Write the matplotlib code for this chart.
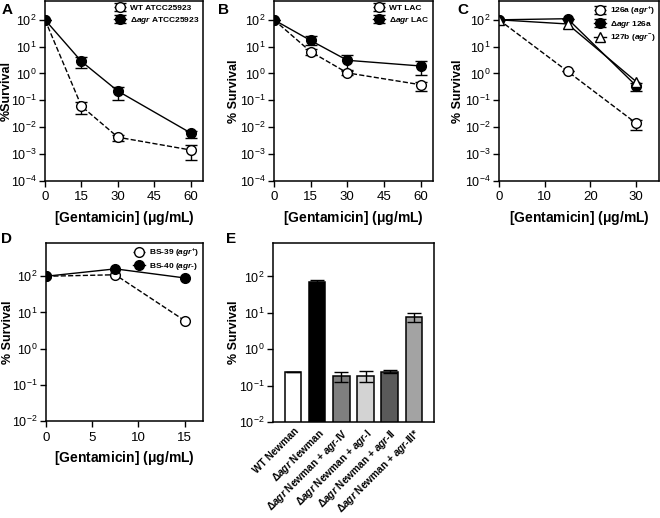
import matplotlib.pyplot as plt
import numpy as np

plt.rcParams['font.family'] = ['Liberation Sans', 'DejaVu Sans']
plt.rcParams['mathtext.fontset'] = 'custom'
plt.rcParams['mathtext.rm'] = 'Liberation Sans'
plt.rcParams['mathtext.it'] = 'Liberation Sans:italic:bold'
plt.rcParams['mathtext.bf'] = 'Liberation Sans:bold'
plt.rcParams['mathtext.default'] = 'regular'

# panel A
a_x = [0, 15, 30, 60]
a_wt = [100, 0.06, 0.0042, 0.0014]
a_wt_lo = [0, 0.03, 0.0012, 0.0008]
a_wt_hi = [0, 0.03, 0.0008, 0.0008]
a_ko = [100, 2.8, 0.22, 0.006]
a_ko_lo = [0, 1.2, 0.12, 0.002]
a_ko_hi = [0, 1.2, 0.1, 0.001]

# panel B
b_x = [0, 15, 30, 60]
b_wt = [100, 6.5, 1.05, 0.38]
b_wt_lo = [0, 1.5, 0.2, 0.16]
b_wt_hi = [0, 1.5, 0.2, 0.1]
b_ko = [100, 17, 3.1, 1.9]
b_ko_lo = [0, 5, 1.8, 1.0]
b_ko_hi = [0, 8, 1.9, 1.0]

# panel C
c_x = [0, 15, 30]
c_126a = [100, 1.2, 0.014]
c_126a_lo = [0, 0, 0.006]
c_126a_hi = [0, 0, 0.004]
c_ko = [100, 110, 0.35]
c_ko_lo = [0, 0, 0.13]
c_ko_hi = [0, 0, 0.1]
c_127b = [100, 70, 0.5]

# panel D
d_x = [0, 7.5, 15]
d_bs39 = [100, 110, 6]
d_bs40 = [100, 160, 90]

# panel E
e_labels = ['WT Newman', 'Δ$\\mathit{agr}$ Newman',
            'Δ$\\mathit{agr}$ Newman + $\\mathit{agr}$-IV',
            'Δ$\\mathit{agr}$ Newman + $\\mathit{agr}$-I',
            'Δ$\\mathit{agr}$ Newman + $\\mathit{agr}$-II',
            'Δ$\\mathit{agr}$ Newman + $\\mathit{agr}$-III*']
e_vals = [0.24, 70, 0.18, 0.19, 0.24, 7.5]
e_lo = [0.005, 0, 0.05, 0.06, 0.02, 2.0]
e_hi = [0.005, 12, 0.06, 0.06, 0.03, 2.5]
e_colors = ['white', 'black', '#7f7f7f', '#d3d3d3', '#5a5a5a', '#a3a3a3']


def style_log(ax, lo, hi, label, lx):
    ax.set_yscale('log')
    ax.set_ylim(10.0 ** lo, 10.0 ** hi)
    ks = range(lo, int(np.floor(hi)) + 1)
    ax.set_yticks([10.0 ** k for k in ks])
    ax.set_yticklabels(['$10^{%d}$' % k for k in ks])
    ax.minorticks_off()
    ax.tick_params(direction='out', length=4, width=1, labelsize=9.5, top=False, right=False)
    ax.tick_params(axis='y', pad=2, labelsize=9)
    for s in ax.spines.values():
        s.set_linewidth(1.1)
    ax.set_ylabel(label, fontsize=9, fontweight='bold')
    ax.yaxis.set_label_coords(lx, 0.5)


def leg(ax):
    ax.legend(loc='upper right', frameon=False, prop={'size': 6, 'weight': 'bold'},
              handlelength=1.4, handletextpad=0.5, labelspacing=0.3,
              borderaxespad=0.2, borderpad=0.2)


fig = plt.figure(figsize=(6.6, 5.18), dpi=100)
xl = r'[Gentamicin] ($\mu$g/mL)'
eb = dict(capsize=4, markersize=7, lw=1, elinewidth=1, capthick=1, color='black', mew=1)

# A
ax = fig.add_axes([0.0682, 0.651, 0.2394, 0.347])
ax.errorbar(a_x, a_wt, yerr=[a_wt_lo, a_wt_hi], fmt='o--', mfc='white', label='WT ATCC25923', **eb)
ax.errorbar(a_x, a_ko, yerr=[a_ko_lo, a_ko_hi], fmt='o-', mfc='black',
            label='Δ$\\mathit{agr}$ ATCC25923', **eb)
ax.set_xlim(0, 65)
ax.set_xticks([0, 15, 30, 45, 60])
style_log(ax, -4, 2.7, '%Survival', -0.203)
ax.set_xlabel(xl, fontsize=10, fontweight='bold')
leg(ax)

# B
ax = fig.add_axes([0.415, 0.651, 0.241, 0.347])
ax.errorbar(b_x, b_wt, yerr=[b_wt_lo, b_wt_hi], fmt='o--', mfc='white', label='WT LAC', **eb)
ax.errorbar(b_x, b_ko, yerr=[b_ko_lo, b_ko_hi], fmt='o-', mfc='black',
            label='Δ$\\mathit{agr}$ LAC', **eb)
ax.set_xlim(0, 65)
ax.set_xticks([0, 15, 30, 45, 60])
style_log(ax, -4, 2.7, '% Survival', -0.215)
ax.set_xlabel(xl, fontsize=10, fontweight='bold')
leg(ax)

# C
ax = fig.add_axes([0.756, 0.651, 0.2424, 0.347])
ax.errorbar(c_x, c_126a, yerr=[c_126a_lo, c_126a_hi], fmt='o--', mfc='white',
            label='126a ($\\mathit{agr}^{+}$)', **eb)
ax.errorbar(c_x, c_ko, yerr=[c_ko_lo, c_ko_hi], fmt='o-', mfc='black',
            label='Δ$\\mathit{agr}$ 126a', **eb)
ax.errorbar(c_x, c_127b, yerr=None, fmt='^-', mfc='white',
            label='127b ($\\mathit{agr}^{-}$)', **eb)
ax.set_xlim(0, 35)
ax.set_xticks([0, 10, 20, 30])
style_log(ax, -4, 2.7, '% Survival', -0.22)
ax.set_xlabel(xl, fontsize=10, fontweight='bold')
leg(ax)

# D
ax = fig.add_axes([0.0697, 0.187, 0.2379, 0.344])
ax.errorbar(d_x, d_bs39, fmt='o--', mfc='white', label='BS-39 ($\\mathit{agr}^{+}$)', **eb)
ax.errorbar(d_x, d_bs40, fmt='o-', mfc='black', label='BS-40 ($\\mathit{agr}$-)', **eb)
ax.set_xlim(0, 17)
ax.set_xticks([0, 5, 10, 15])
style_log(ax, -2, 2.92, '% Survival', -0.204)
ax.set_xlabel(xl, fontsize=10, fontweight='bold')
leg(ax)

# E
ax = fig.add_axes([0.4136, 0.185, 0.244, 0.346])
pos = np.arange(len(e_vals))
ax.bar(pos, e_vals, width=0.67, color=e_colors, edgecolor='black', linewidth=1.1)
ax.errorbar(pos, e_vals, yerr=[e_lo, e_hi], fmt='none', ecolor='black', capsize=5,
            elinewidth=1, capthick=1)
ax.set_xlim(-0.85, 5.85)
style_log(ax, -2, 2.92, '% Survival', -0.205)
ax.set_xticks(pos)
ax.set_xticklabels(e_labels, rotation=45, ha='right', rotation_mode='anchor',
                   fontsize=7.3, fontweight='bold')
ax.tick_params(axis='x', length=0, pad=3)

for lab, x, y in [('A', 0.002, 0.995), ('B', 0.33, 0.995), ('C', 0.693, 0.995),
                  ('D', 0.002, 0.552), ('E', 0.343, 0.552)]:
    fig.text(x, y, lab, fontsize=11, fontweight='bold', va='top')

fig.savefig('out.png', dpi=100)
